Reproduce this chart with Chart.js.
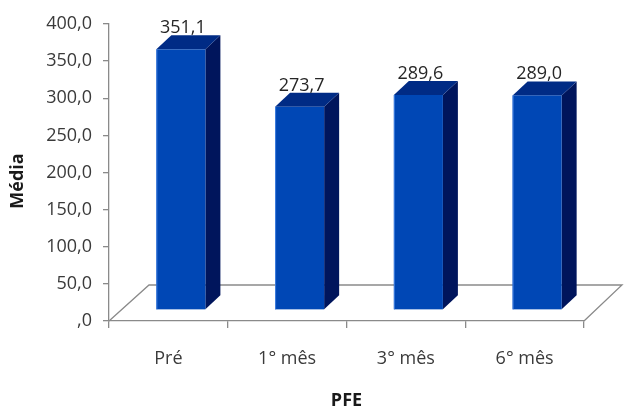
<!DOCTYPE html>
<html>
<head>
<meta charset="utf-8">
<script src="https://cdn.jsdelivr.net/npm/chart.js@4/dist/chart.umd.min.js"></script>
<style>
  html, body { margin: 0; padding: 0; background: #ffffff; }
  #wrap { width: 633px; height: 412px; }
</style>
</head>
<body>
<div id="wrap"><canvas id="c" width="633" height="412"></canvas></div>
<script>
// PFE mean per time point
const categories = ['Pré', '1° mês', '3° mês', '6° mês'];
const mediaValues = [351.1, 273.7, 289.6, 289.0];
const yTickValues = [0, 50, 100, 150, 200, 250, 300, 350, 400];
const yTitle = 'Média';
const xTitle = 'PFE';

const FONT = "'Open Sans', 'Noto Sans', sans-serif";
const TEXT = '#3a3a3a';
const LINE = '#8a8a8a';

// Pseudo-3D geometry (pixels)
const FLOOR_DX = 40, FLOOR_DY = -36;   // floor depth
const SHIFT_DX = 12.5, SHIFT_DY = -11; // bar placement inside floor depth
const BAR_DX = 15, BAR_DY = -14;       // bar depth

const fmt = v => v === 0 ? ',0' : v.toFixed(1).replace('.', ',');

const bars3d = {
  id: 'bars3d',
  beforeDatasetsDraw(chart) {
    const { ctx, chartArea: a } = chart;
    // floor outline (front edge is the x axis border)
    ctx.save();
    ctx.strokeStyle = LINE;
    ctx.lineWidth = 1.3;
    ctx.beginPath();
    ctx.moveTo(a.left, a.bottom);
    ctx.lineTo(a.left + FLOOR_DX, a.bottom + FLOOR_DY);
    ctx.lineTo(a.right + FLOOR_DX - 2, a.bottom + FLOOR_DY);
    ctx.lineTo(a.right, a.bottom);
    ctx.stroke();
    ctx.restore();
  },
  afterDatasetsDraw(chart) {
    const { ctx } = chart;
    const meta = chart.getDatasetMeta(0);
    ctx.save();
    meta.data.forEach((bar, i) => {
      const p = bar.getProps(['x', 'y', 'base', 'width'], true);
      const l = p.x - p.width / 2 + SHIFT_DX;
      const r = p.x + p.width / 2 + SHIFT_DX;
      const t = p.y + SHIFT_DY;
      const b = p.base + SHIFT_DY;
      // side face
      ctx.fillStyle = '#00155c';
      ctx.beginPath();
      ctx.moveTo(r, b);
      ctx.lineTo(r, t);
      ctx.lineTo(r + BAR_DX, t + BAR_DY);
      ctx.lineTo(r + BAR_DX, b + BAR_DY);
      ctx.closePath();
      ctx.fill();
      // top face
      ctx.fillStyle = '#002b85';
      ctx.beginPath();
      ctx.moveTo(l, t);
      ctx.lineTo(l + BAR_DX, t + BAR_DY);
      ctx.lineTo(r + BAR_DX, t + BAR_DY);
      ctx.lineTo(r, t);
      ctx.closePath();
      ctx.fill();
      // front face
      ctx.fillStyle = '#0047b5';
      ctx.fillRect(l, t, r - l, b - t);
      ctx.strokeStyle = '#3f7fe0';
      ctx.lineWidth = 1;
      ctx.beginPath();
      ctx.moveTo(l + 0.5, b);
      ctx.lineTo(l + 0.5, t);
      ctx.stroke();
      // value label
      ctx.fillStyle = '#262626';
      ctx.font = '18px ' + FONT;
      ctx.textAlign = 'center';
      ctx.textBaseline = 'alphabetic';
      ctx.fillText(fmt(mediaValues[i]), (l + r) / 2 + 2, t + BAR_DY - 2);
    });
    ctx.restore();
  },
  afterDraw(chart) {
    // value axis title, rotated
    const { ctx } = chart;
    ctx.save();
    ctx.translate(18, 181);
    ctx.rotate(-Math.PI / 2);
    ctx.fillStyle = '#1a1a1a';
    ctx.font = 'bold 18px ' + FONT;
    ctx.textAlign = 'center';
    ctx.textBaseline = 'middle';
    ctx.fillText(yTitle, 0, 0);
    ctx.restore();
  }
};

new Chart(document.getElementById('c'), {
  type: 'bar',
  data: {
    labels: categories,
    datasets: [{
      label: yTitle,
      data: mediaValues,
      backgroundColor: 'rgba(0,0,0,0)',
      borderWidth: 0,
      categoryPercentage: 1,
      barPercentage: 0.413
    }]
  },
  options: {
    responsive: false,
    animation: false,
    events: [],
    layout: { padding: { left: 0, right: 49, top: 24, bottom: 0 } },
    plugins: {
      legend: { display: false },
      tooltip: { enabled: false },
      title: { display: false }
    },
    scales: {
      x: {
        offset: true,
        afterFit(scale) { scale.height = 91; },
        grid: {
          offset: true,
          drawOnChartArea: false,
          drawTicks: true,
          tickLength: 7,
          color: LINE,
          lineWidth: 1.3
        },
        border: { display: true, color: LINE, width: 1.3 },
        ticks: {
          color: TEXT,
          font: { family: FONT, size: 18 },
          padding: 20,
          maxRotation: 0
        },
        title: {
          display: true,
          text: xTitle,
          color: '#1a1a1a',
          font: { family: FONT, size: 18, weight: 'bold' },
          padding: { top: 0, bottom: 0 }
        }
      },
      y: {
        min: 0,
        max: 400,
        afterFit(scale) { scale.width = 109; },
        afterBuildTicks(scale) { scale.ticks = yTickValues.map(v => ({ value: v })); },
        grid: {
          drawOnChartArea: false,
          drawTicks: true,
          tickLength: 6,
          color: LINE,
          lineWidth: 1.3
        },
        border: { display: true, color: LINE, width: 1.3 },
        ticks: {
          color: TEXT,
          font: { family: FONT, size: 18 },
          padding: 11,
          callback: v => fmt(v)
        },
        title: { display: false }
      }
    }
  },
  plugins: [bars3d]
});
</script>
</body>
</html>
